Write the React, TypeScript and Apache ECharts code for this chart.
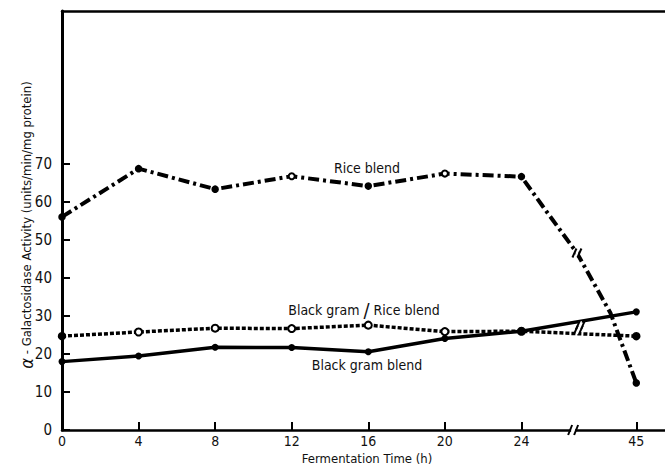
import React, { useEffect, useRef } from "react";
import * as echarts from "echarts";

// Fermentation time (h): tick labels and their positions on the broken axis
const timeLabels = ["0", "4", "8", "12", "16", "20", "24", "45"];
const timePos = [0, 4, 8, 12, 16, 20, 24, 30];

// alpha-Galactosidase activity (units/min/mg protein)
const riceBlend = [56.1, 68.8, 63.4, 66.8, 64.2, 67.5, 66.7, 12.4];
const riceOpenIdx = [3, 5];
// traced vertices of the rice curve between 24 h and 45 h (across the axis break)
const riceBreakPath: number[][] = [
  [25.14, 58.7],
  [26.9, 46.6],
  [28.65, 30.8],
];
const blackGramRice = [24.7, 25.8, 26.8, 26.7, 27.6, 25.9, 26.0, 24.7];
const blackGramRiceFilledIdx = [0, 7];
const blackGramBlend = [18.0, 19.5, 21.8, 21.7, 20.6, 24.1, 26.0, 31.1];

const yTicks = [0, 10, 20, 30, 40, 50, 60, 70];

// axis-break marks: [position, value, kind]
const breakMarks: number[][] = [
  [26.7, 0, 0],
  [26.9, 46.6, 1],
  [26.97, 26.3, 2],
  [27.08, 27.6, 2],
];

const FONT = "'Liberation Sans Narrow', 'DejaVu Sans Condensed', 'Roboto Condensed', Arial, sans-serif";

export default function App() {
  const ref = useRef<HTMLDivElement>(null);
  useEffect(() => {
    document.body.style.margin = "0";
    const chart = echarts.init(ref.current!, null, { renderer: "svg" });

    const riceData: any[] = timePos.map((x, i) => ({
      value: [x, riceBlend[i]],
      symbol: riceOpenIdx.includes(i) ? "emptyCircle" : "circle",
    }));
    const riceFull = [
      ...riceData.slice(0, 7),
      ...riceBreakPath.map((p) => ({ value: p, symbol: "none" })),
      riceData[7],
    ];
    const bgrData = timePos.map((x, i) => ({
      value: [x, blackGramRice[i]],
      symbol: blackGramRiceFilledIdx.includes(i) ? "circle" : "emptyCircle",
    }));
    const bgData = timePos.map((x, i) => [x, blackGramBlend[i]]);

    const option: any = {
      animation: false,
      backgroundColor: "#fff",
      grid: { left: 62, right: 0, top: 11, bottom: 37, outerBoundsMode: "none" },
      xAxis: [
        {
          type: "value",
          min: 0,
          max: 31.5,
          axisLine: { show: true, lineStyle: { color: "#000", width: 2.5 } },
          axisTick: {
            show: true,
            inside: true,
            length: 8,
            lineStyle: { color: "#000", width: 2 },
            customValues: timePos.slice(1),
          },
          axisLabel: {
            customValues: timePos,
            formatter: (v: number) => timeLabels[timePos.indexOf(v)] ?? "",
            color: "#111",
            fontSize: 14,
            fontFamily: FONT,
            margin: 4,
          },
          splitLine: { show: false },
        },
        {
          type: "value",
          position: "top",
          min: 0,
          max: 31.5,
          axisLine: { show: true, lineStyle: { color: "#000", width: 2.5 } },
          axisTick: { show: false },
          axisLabel: { show: false },
          splitLine: { show: false },
        },
      ],
      yAxis: {
        type: "value",
        min: 0,
        max: 110.3,
        axisLine: { show: true, lineStyle: { color: "#000", width: 3 } },
        axisTick: {
          show: true,
          inside: true,
          length: 8,
          lineStyle: { color: "#000", width: 2 },
          customValues: yTicks,
        },
        axisLabel: {
          customValues: yTicks,
          color: "#111",
          fontSize: 15,
          fontFamily: FONT,
          margin: 10,
        },
        splitLine: { show: false },
      },
      series: [
        {
          type: "line",
          name: "Rice blend",
          data: riceFull,
          symbolSize: 6,
          lineStyle: { color: "#000", width: 4, type: [11, 4, 3, 4] },
          itemStyle: { color: "#000", borderColor: "#000", borderWidth: 1.5 },
          z: 3,
        },
        {
          type: "line",
          name: "Black gram / Rice blend",
          data: bgrData,
          symbolSize: 7,
          lineStyle: { color: "#000", width: 3.5, type: [4, 2] },
          itemStyle: { color: "#000", borderColor: "#000", borderWidth: 1.5 },
          z: 2,
        },
        {
          type: "line",
          name: "Black gram blend",
          data: bgData,
          symbol: "circle",
          symbolSize: 7,
          lineStyle: { color: "#000", width: 3.5 },
          itemStyle: { color: "#000" },
          z: 2,
        },
        {
          type: "custom",
          data: breakMarks,
          clip: false,
          z: 10,
          renderItem: (params: any, api: any) => {
            const p = api.coord([api.value(0), api.value(1)]);
            const kind = api.value(2);
            const h = kind === 0 ? 8 : 7;
            const gapW = kind === 0 ? 4 : 3;
            return {
              type: "group",
              children: [
                {
                  type: "rect",
                  shape: { x: p[0] - gapW / 2, y: p[1] - 4, width: gapW, height: 8 },
                  style: { fill: "#fff" },
                },
                {
                  type: "line",
                  shape: { x1: p[0] - gapW / 2 - 3, y1: p[1] + h / 2 + 1, x2: p[0] - gapW / 2 + 1, y2: p[1] - h / 2 - 1 },
                  style: { stroke: "#000", lineWidth: 2 },
                },
                {
                  type: "line",
                  shape: { x1: p[0] + gapW / 2 - 1, y1: p[1] + h / 2 + 1, x2: p[0] + gapW / 2 + 3, y2: p[1] - h / 2 - 1 },
                  style: { stroke: "#000", lineWidth: 2 },
                },
              ],
            };
          },
        },
      ],
      graphic: [
        {
          type: "text",
          x: 367,
          y: 168,
          style: {
            text: "Rice blend",
            fontSize: 14,
            fontFamily: FONT,
            fill: "#111",
            align: "center",
            verticalAlign: "middle",
          },
        },
        {
          type: "text",
          x: 364,
          y: 310,
          style: {
            text: "{a|Black gram }{s|/}{a| Rice blend}",
            fontFamily: FONT,
            fill: "#111",
            align: "center",
            verticalAlign: "middle",
            rich: {
              a: { fontSize: 14, fontFamily: FONT, fill: "#111" },
              s: { fontSize: 20, fontFamily: FONT, fill: "#111" },
            },
          },
        },
        {
          type: "text",
          x: 367,
          y: 365,
          style: {
            text: "Black gram blend",
            fontSize: 14,
            fontFamily: FONT,
            fill: "#111",
            align: "center",
            verticalAlign: "middle",
          },
        },
        {
          type: "text",
          x: 367,
          y: 458,
          style: {
            text: "Fermentation Time (h)",
            fontSize: 13,
            fontFamily: FONT,
            fill: "#111",
            align: "center",
            verticalAlign: "middle",
          },
        },
        {
          type: "text",
          x: 26,
          y: 225,
          rotation: Math.PI / 2,
          style: {
            text: "{al|α}{a| - Galactosidase Activity (units/min/mg protein)}",
            fontFamily: FONT,
            fill: "#111",
            align: "center",
            verticalAlign: "middle",
            rich: {
              a: { fontSize: 13, fontFamily: FONT, fill: "#111" },
              al: { fontSize: 18, fontStyle: "italic", fontFamily: FONT, fill: "#111" },
            },
          },
        },
      ],
    };
    chart.setOption(option);
    return () => chart.dispose();
  }, []);
  return (
    <div
      ref={ref}
      style={{ position: "fixed", left: 0, top: 0, width: 665, height: 467 }}
    />
  );
}
